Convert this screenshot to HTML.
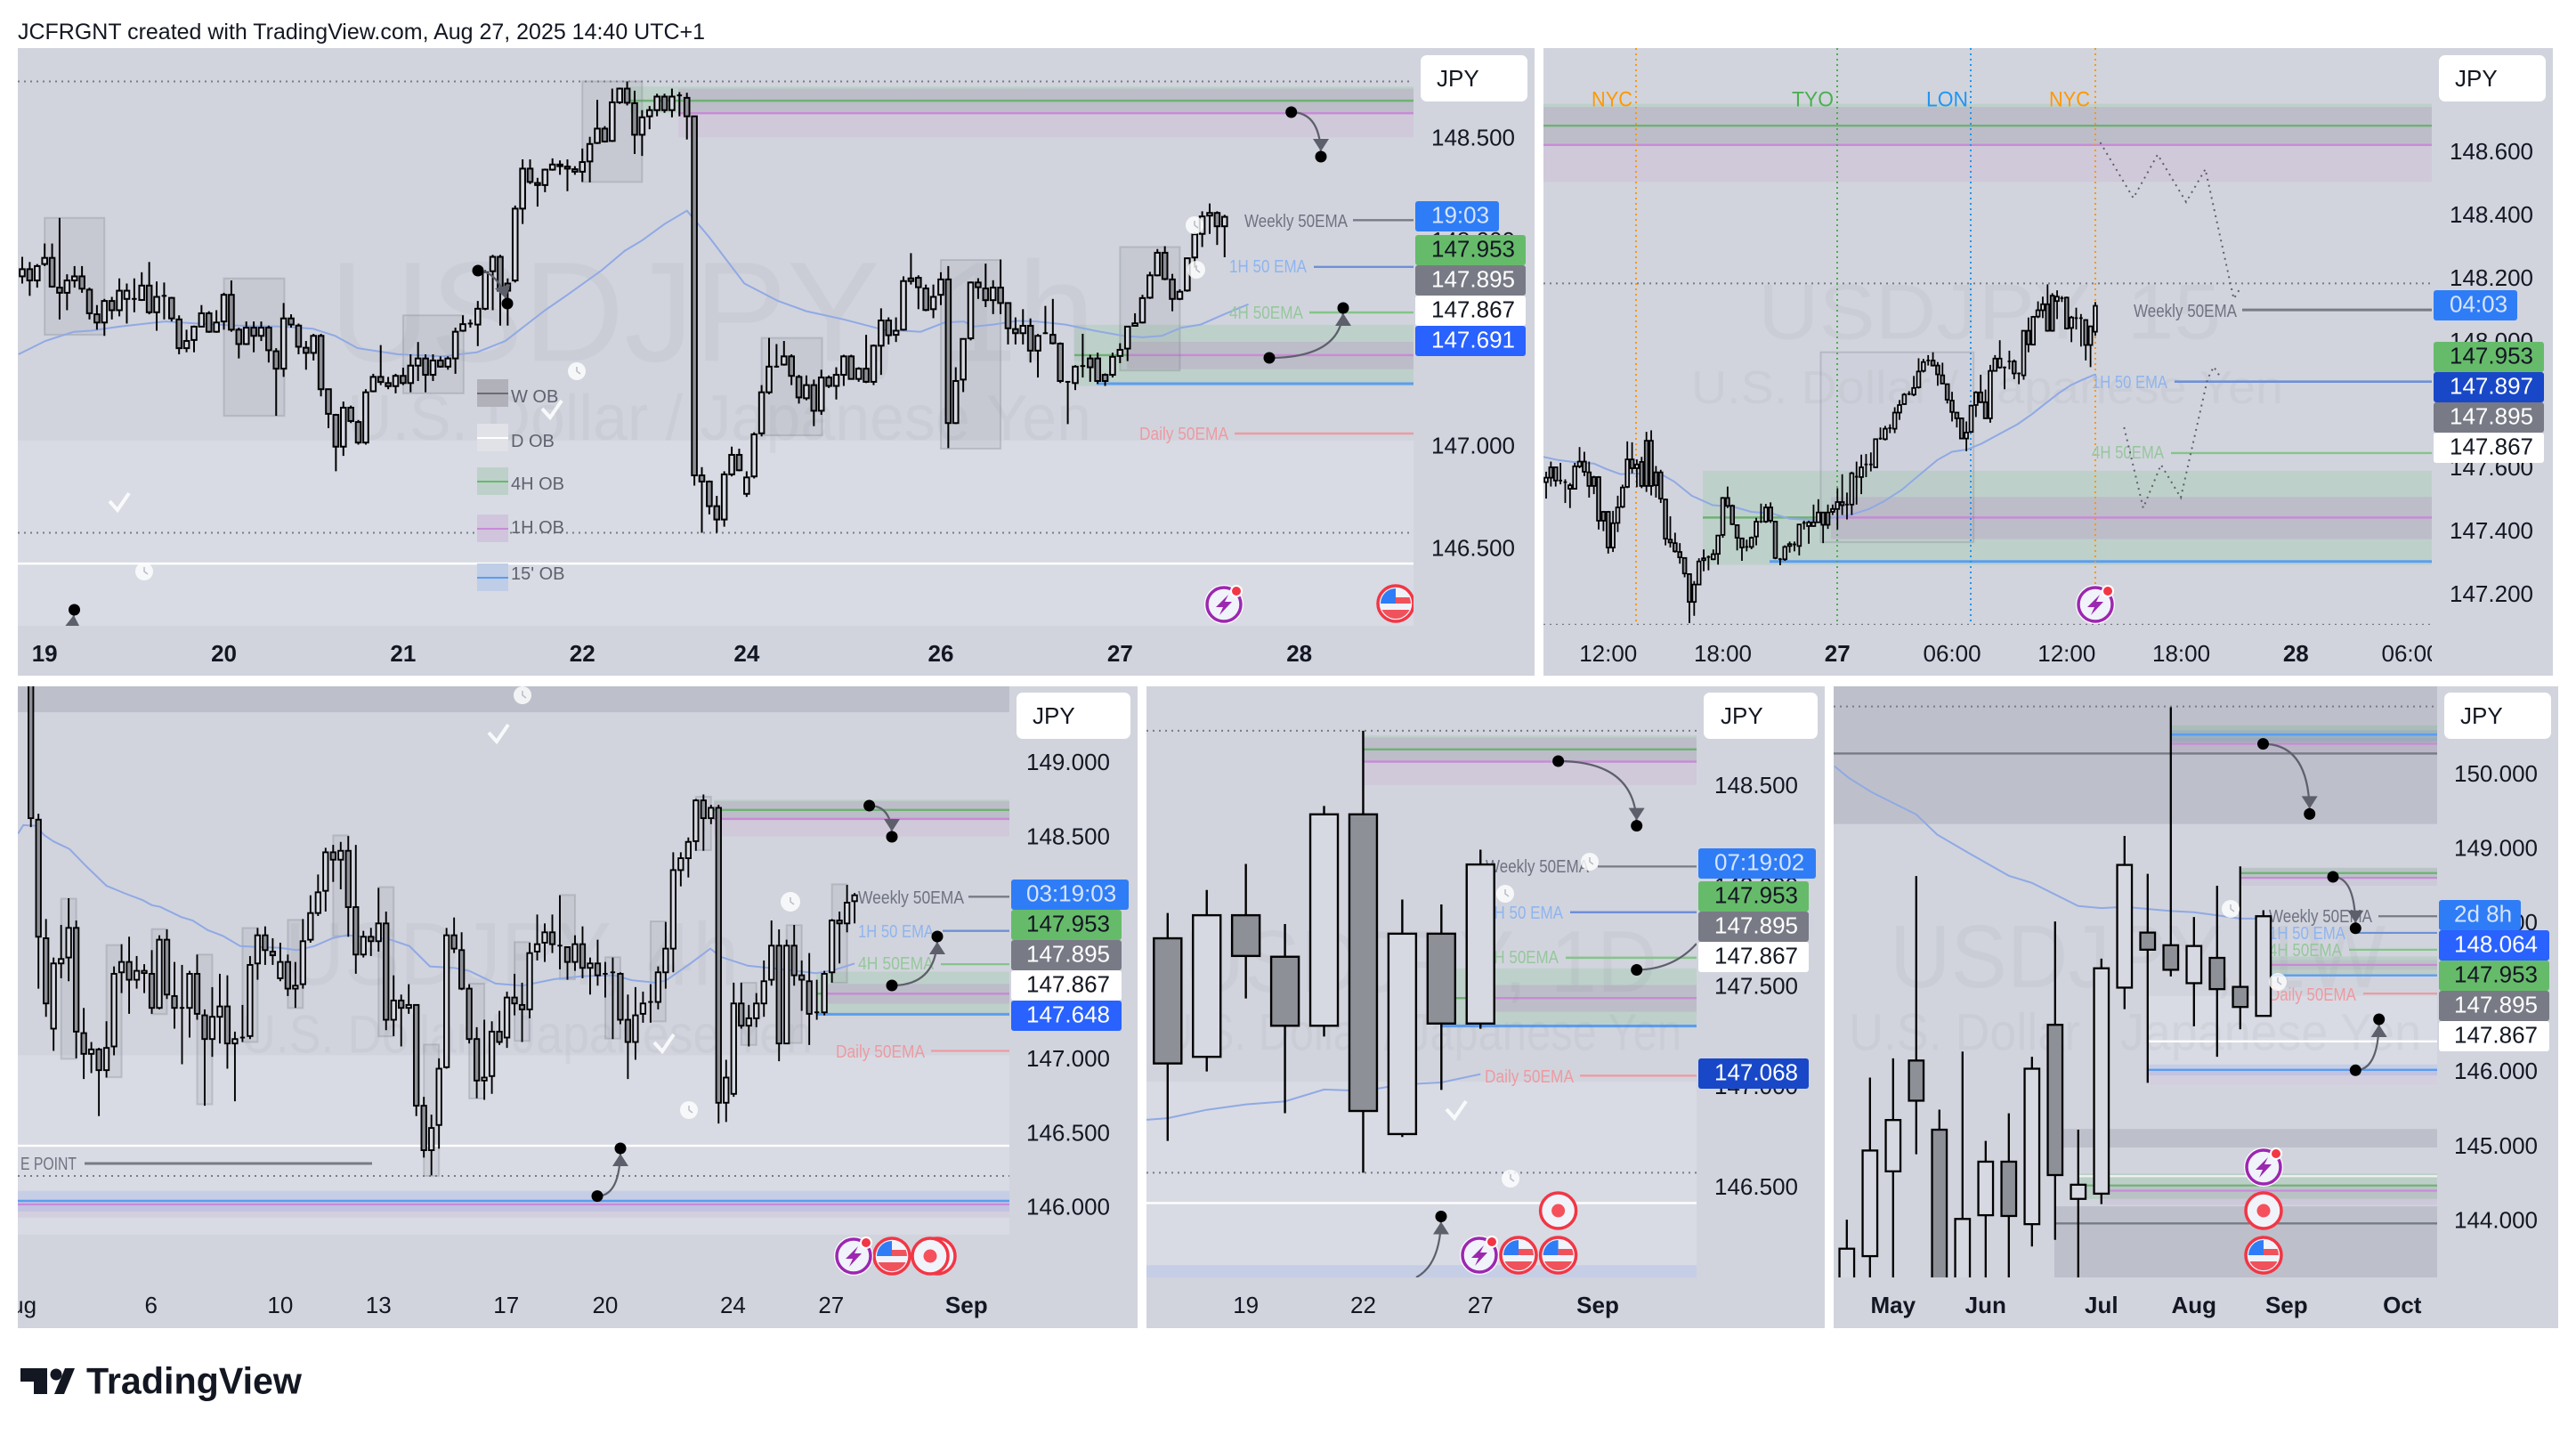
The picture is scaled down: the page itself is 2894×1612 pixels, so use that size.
<!DOCTYPE html>
<html lang="en">
<head>
<meta charset="utf-8">
<title>USDJPY multi-timeframe layout</title>
<style>
html,body{margin:0;padding:0;background:#fff;}
body{width:2894px;height:1612px;overflow:hidden;font-family:"Liberation Sans",sans-serif;}
svg{display:block;font-family:"Liberation Sans",sans-serif;}
</style>
</head>
<body>
<svg id="chart" width="2894" height="1612" viewBox="0 0 2894 1612">
<rect x="0" y="0" width="2894" height="1612" fill="#ffffff"/>
<text x="20" y="36" dominant-baseline="central" font-size="25" fill="#131722" textLength="772" lengthAdjust="spacingAndGlyphs">JCFRGNT created with TradingView.com, Aug 27, 2025 14:40 UTC+1</text>
<g>
<path d="M23 1537h30v29h-15v-14h-15z M61 1566l12-29h11l-12 29z" fill="#131722"/>
<circle cx="63" cy="1544" r="6.5" fill="#131722"/>
<text x="97" y="1551" dominant-baseline="central" font-size="42" font-weight="700" fill="#131722" textLength="242" lengthAdjust="spacingAndGlyphs">TradingView</text>
</g>
</svg>
<script>
/* ---------- 1h panel ---------- */
const p1Open=[147.83,147.865,147.81,147.89,147.92,147.775,147.75,147.81,147.83,147.765,147.645,147.605,147.71,147.665,147.72,147.72,147.715,147.785,147.655,147.735,147.725,147.62,147.48,147.52,147.585,147.65,147.56,147.61,147.74,147.57,147.50,147.58,147.54,147.58,147.465,147.38,147.625,147.59,147.482,147.457,147.54,147.28,147.155,147.0,147.19,147.12,147.02,147.27,147.34,147.31,147.295,147.345,147.31,147.395,147.43,147.35,147.42,147.39,147.43,147.565,147.60,147.595,147.672,147.855,147.925,147.795,147.81,148.16,148.355,148.285,148.275,148.35,148.375,148.365,148.352,148.34,148.39,148.48,148.55,148.49,148.678,148.745,148.674,148.52,148.61,148.64,148.706,148.64,148.712,148.70,148.61,146.86,146.83,146.71,146.645,146.865,146.96,146.77,146.855,147.065,147.265,147.39,147.40,147.44,147.34,147.236,147.30,147.175,147.337,147.296,147.35,147.44,147.33,147.38,147.316,147.492,147.615,147.545,147.57,147.82,147.823,147.771,147.67,147.74,147.815,147.115,147.327,147.528,147.80,147.771,147.714,147.775,147.70,147.573,147.553,147.589,147.468,147.553,147.545,147.502,147.316,147.31,147.393,147.43,147.43,147.35,147.35,147.442,147.478,147.589,147.605,147.726,147.835,147.945,147.815,147.72,147.761,147.922,148.037,148.126,148.139,148.074];
const p1High=[147.925,147.90,147.89,147.99,147.99,148.115,147.84,147.88,147.88,147.775,147.69,147.72,147.73,147.82,147.795,147.82,147.85,147.90,147.805,147.80,147.73,147.64,147.57,147.59,147.69,147.66,147.665,147.75,147.81,147.58,147.61,147.61,147.61,147.59,147.48,147.70,147.645,147.60,147.515,147.55,147.55,147.28,147.16,147.22,147.20,147.13,147.28,147.355,147.495,147.34,147.355,147.385,147.45,147.51,147.45,147.45,147.44,147.44,147.58,147.64,147.62,147.71,147.86,147.935,147.935,147.82,148.175,148.40,148.40,148.31,148.355,148.405,148.395,148.40,148.367,148.453,148.51,148.69,148.562,148.745,148.75,148.78,148.735,148.64,148.66,148.72,148.72,148.745,148.728,148.725,148.61,146.90,146.835,146.76,146.88,147.0,146.99,146.88,147.07,147.30,147.53,147.50,147.515,147.45,147.35,147.347,147.327,147.375,147.347,147.387,147.448,147.448,147.387,147.545,147.498,147.674,147.63,147.63,147.83,147.943,147.835,147.79,147.79,147.85,147.88,147.387,147.528,147.805,147.821,147.892,147.811,147.912,147.70,147.63,147.67,147.625,147.549,147.686,147.72,147.508,147.32,147.397,147.55,147.448,147.458,147.357,147.458,147.504,147.589,147.65,147.74,147.852,147.963,147.977,147.842,147.767,147.922,148.043,148.147,148.185,148.147,148.13];
const p1Low=[147.795,147.735,147.775,147.88,147.775,147.62,147.665,147.775,147.75,147.62,147.57,147.54,147.62,147.635,147.60,147.655,147.71,147.645,147.565,147.62,147.61,147.45,147.46,147.46,147.585,147.555,147.555,147.57,147.56,147.43,147.495,147.46,147.515,147.41,147.15,147.34,147.58,147.45,147.375,147.42,147.245,147.09,146.88,146.955,147.115,147.01,147.01,147.265,147.30,147.28,147.26,147.30,147.265,147.32,147.265,147.32,147.385,147.375,147.355,147.56,147.58,147.49,147.665,147.665,147.59,147.59,147.80,148.085,148.28,148.17,148.24,148.345,148.325,148.245,148.325,148.29,148.288,148.475,148.482,148.485,148.67,148.663,148.426,148.417,148.547,148.61,148.627,148.605,148.61,148.497,146.81,146.58,146.67,146.58,146.61,146.855,146.88,146.755,146.845,147.05,147.255,147.385,147.395,147.30,147.21,147.226,147.10,147.155,147.286,147.23,147.296,147.327,147.316,147.31,147.30,147.35,147.498,147.51,147.565,147.79,147.67,147.66,147.626,147.69,146.993,147.11,147.266,147.518,147.72,147.68,147.646,147.646,147.498,147.498,147.498,147.41,147.337,147.549,147.498,147.31,147.11,147.276,147.337,147.316,147.306,147.296,147.337,147.407,147.417,147.585,147.60,147.72,147.83,147.811,147.66,147.714,147.755,147.872,147.973,148.037,147.983,147.923];
const p1Close=[147.865,147.81,147.88,147.92,147.78,147.75,147.81,147.83,147.77,147.65,147.605,147.71,147.665,147.76,147.76,147.72,147.785,147.655,147.73,147.735,147.625,147.48,147.515,147.585,147.65,147.56,147.605,147.74,147.57,147.50,147.58,147.54,147.58,147.47,147.38,147.625,147.595,147.487,147.457,147.54,147.28,147.16,147.0,147.19,147.125,147.02,147.265,147.34,147.315,147.295,147.345,147.31,147.395,147.43,147.35,147.42,147.39,147.43,147.56,147.597,147.60,147.672,147.85,147.925,147.76,147.76,148.16,148.355,148.29,148.275,148.35,148.375,148.367,148.355,148.34,148.387,148.475,148.55,148.487,148.678,148.745,148.676,148.52,148.605,148.64,148.706,148.64,148.706,148.712,148.61,146.86,146.83,146.71,146.645,146.865,146.96,146.885,146.85,147.06,147.265,147.39,147.39,147.44,147.345,147.24,147.30,147.175,147.337,147.296,147.35,147.44,147.33,147.38,147.316,147.492,147.615,147.543,147.565,147.807,147.807,147.777,147.666,147.73,147.815,147.115,147.32,147.525,147.80,147.777,147.714,147.775,147.70,147.577,147.553,147.589,147.468,147.54,147.553,147.504,147.32,147.316,147.39,147.393,147.387,147.32,147.32,147.438,147.472,147.585,147.601,147.724,147.835,147.945,147.817,147.72,147.755,147.918,148.035,148.122,148.139,148.074,148.12];
const p1EmaBar=[-0.5,3.1,6.9,9.2,13,19.1,23.6,29,35,38.9,41.9,44.9,50.3,56.3,60.9,64.7,70,73,77.6,80.7,83,86,89,92,96.7,101.2,105,110,113.2,115.8,118,120.3,123.5,126.1,127.4,130,133.2,135.8,139.7,143.6,147.5,150,152.6,155.2,157.8,161,164.2];
const p1EmaPrice=[147.45,147.515,147.56,147.565,147.585,147.61,147.60,147.59,147.585,147.575,147.54,147.48,147.45,147.44,147.46,147.515,147.665,147.74,147.86,147.955,148.005,148.085,148.15,148.02,147.795,147.71,147.66,147.62,147.59,147.565,147.565,147.56,147.605,147.61,147.585,147.595,147.613,147.61,147.595,147.565,147.54,147.533,147.54,147.58,147.595,147.646,147.694];
const p1XLabels=['19','20','21','22','24','26','27','28'];
const p1XBars=[3,27,51,75,97,123,147,171];
const p1YTicks=[148.5,148,147.5,147,146.5];

/* ---------- 15m panel ---------- */
const p2Open=[147.558,147.605,147.605,147.563,147.558,147.537,147.537,147.608,147.623,147.589,147.574,147.574,147.464,147.464,147.351,147.429,147.480,147.543,147.630,147.602,147.622,147.689,147.689,147.589,147.589,147.503,147.376,147.365,147.337,147.318,147.267,147.179,147.234,147.311,147.321,147.314,147.331,147.391,147.508,147.483,147.422,147.380,147.353,147.353,147.386,147.433,147.433,147.478,147.433,147.314,147.314,147.356,147.361,147.356,147.429,147.419,147.419,147.431,147.462,147.462,147.464,147.473,147.495,147.487,147.487,147.575,147.574,147.614,147.614,147.605,147.696,147.694,147.729,147.727,147.778,147.805,147.837,147.835,147.858,147.910,147.943,147.943,147.927,147.896,147.868,147.816,147.778,147.760,147.696,147.717,147.802,147.842,147.811,147.760,147.910,147.921,147.921,147.940,147.940,147.902,147.896,148.037,147.993,148.082,148.102,148.121,148.148,148.131,148.140,148.142,148.046,148.077,148.077,148.071,147.992,148.034];
const p2High=[147.591,147.623,147.605,147.619,147.567,147.555,147.619,147.669,147.654,147.623,147.578,147.577,147.467,147.467,147.467,147.515,147.550,147.687,147.684,147.630,147.638,147.717,147.722,147.609,147.597,147.506,147.450,147.398,147.365,147.320,147.269,147.245,147.317,147.345,147.326,147.345,147.391,147.511,147.544,147.487,147.424,147.382,147.376,147.386,147.445,147.490,147.489,147.494,147.436,147.318,147.358,147.370,147.370,147.426,147.436,147.436,147.487,147.504,147.464,147.487,147.487,147.539,147.583,147.525,147.591,147.623,147.645,147.647,147.652,147.696,147.731,147.736,147.741,147.795,147.818,147.840,147.846,147.894,147.950,147.948,147.960,147.969,147.938,147.936,147.870,147.844,147.780,147.762,147.750,147.803,147.846,147.898,147.851,147.929,147.960,148.007,147.924,147.974,147.946,147.905,148.039,148.079,148.084,148.130,148.145,148.184,148.156,148.165,148.147,148.145,148.084,148.110,148.090,148.074,148.053,148.128];
const p2Low=[147.506,147.544,147.544,147.551,147.492,147.476,147.536,147.602,147.577,147.509,147.520,147.408,147.403,147.332,147.337,147.400,147.476,147.539,147.586,147.542,147.539,147.527,147.516,147.509,147.492,147.358,147.351,147.335,147.300,147.257,147.112,147.135,147.232,147.276,147.279,147.311,147.297,147.382,147.476,147.422,147.342,147.309,147.339,147.346,147.358,147.429,147.429,147.429,147.314,147.295,147.309,147.335,147.339,147.326,147.408,147.363,147.417,147.429,147.365,147.410,147.454,147.408,147.454,147.440,147.454,147.487,147.520,147.574,147.592,147.602,147.692,147.690,147.713,147.713,147.755,147.802,147.833,147.830,147.854,147.905,147.927,147.924,147.863,147.868,147.807,147.750,147.731,147.694,147.656,147.714,147.764,147.808,147.758,147.746,147.908,147.917,147.852,147.915,147.884,147.868,147.882,147.969,147.992,148.077,148.077,148.034,148.034,148.074,148.128,148.041,148.001,148.041,147.987,147.943,147.922,148.021];
const p2Close=[147.572,147.572,147.563,147.563,147.558,147.548,147.608,147.623,147.591,147.546,147.546,147.436,147.436,147.351,147.428,147.478,147.541,147.630,147.602,147.614,147.546,147.546,147.546,147.548,147.506,147.379,147.367,147.339,147.320,147.269,147.179,147.234,147.307,147.317,147.321,147.330,147.389,147.508,147.483,147.425,147.382,147.351,147.353,147.382,147.433,147.433,147.478,147.436,147.318,147.314,147.353,147.362,147.361,147.424,147.429,147.431,147.431,147.462,147.423,147.423,147.473,147.495,147.485,147.487,147.586,147.575,147.605,147.614,147.614,147.694,147.696,147.727,147.729,147.778,147.802,147.835,147.837,147.856,147.908,147.938,147.943,147.927,147.899,147.870,147.819,147.780,147.760,147.696,147.715,147.800,147.842,147.811,147.760,147.910,147.949,147.949,147.921,147.940,147.902,147.902,148.037,147.994,148.081,148.102,148.121,148.037,148.037,148.145,148.140,148.044,148.079,148.077,148.077,147.992,148.051,148.116];
const p2EmaBar=[-0.6,2.5,5.6,10,12.5,15.6,18,24.3,26.8,30.5,34.9,39.2,43,47.3,51,56.7,63.9,67.6,70.7,74.5,78.2,81.9,85,88.1,91.2,95,98.7,101.8,104.3,107.4,109.9,112.3,115];
const p2EmaPrice=[147.638,147.628,147.622,147.617,147.60,147.583,147.586,147.581,147.56,147.515,147.485,147.48,147.464,147.459,147.442,147.438,147.455,147.473,147.497,147.534,147.581,147.628,147.654,147.661,147.68,147.711,147.741,147.774,147.804,147.84,147.865,147.882,147.899];
const p2XLabels=['12:00','18:00','27','06:00','12:00','18:00','28','06:00'];
const p2XBars=[13,37,61,85,109,133,157,181];
const p2YTicks=[148.6,148.4,148.2,148,147.6,147.4,147.2];

/* ---------- 4h panel ---------- */
const p3Open=[149.9,148.62,147.82,147.21,147.65,147.69,147.89,147.18,147.04,147.07,146.93,147.09,147.59,147.66,147.54,147.585,147.58,147.35,147.81,147.43,147.35,147.35,147.58,147.30,147.14,147.29,147.36,147.11,147.15,147.16,147.65,147.84,147.73,147.55,147.66,147.48,147.51,147.81,147.99,148.14,148.40,148.35,148.41,148.03,147.71,147.83,147.80,147.92,147.27,147.40,147.35,147.37,146.69,146.39,146.56,146.95,147.84,147.74,147.48,147.14,146.86,146.89,147.19,147.15,147.42,147.37,147.34,147.73,147.79,147.86,147.77,147.76,147.66,147.78,147.62,147.65,147.58,147.59,147.58,147.27,147.12,147.31,147.39,147.39,147.59,147.75,148.28,148.36,148.475,148.75,148.63,148.70,146.71,146.77,147.38,147.23,147.28,147.38,147.54,147.77,147.11,147.77,147.57,147.53,147.32,147.32,147.59,147.94,147.92,148.07];
const p3High=[150.4,148.66,147.95,147.69,147.91,148.09,147.94,147.35,147.12,147.08,147.26,147.63,147.78,147.83,147.70,147.645,147.74,147.84,147.88,147.66,147.64,147.60,147.71,147.34,147.49,147.58,147.57,147.19,147.37,147.70,147.89,147.90,147.82,147.79,147.71,147.66,147.95,148.11,148.25,148.43,148.45,148.47,148.51,148.45,147.87,147.89,148.16,148.0,147.57,147.44,147.51,147.37,146.75,146.63,147.01,147.89,147.96,147.86,147.51,147.22,147.27,147.26,147.33,147.46,147.58,147.52,147.79,147.98,147.92,147.98,148.11,147.76,147.84,147.90,147.69,147.81,147.66,147.69,147.59,147.44,147.49,147.46,147.51,147.63,147.93,148.40,148.40,148.50,148.76,148.79,148.72,148.72,147.0,147.52,147.52,147.37,147.45,147.67,147.94,147.88,147.81,147.91,147.67,147.72,147.54,147.60,147.95,148.0,148.18,148.125];
const p3Low=[148.57,147.48,147.29,147.06,147.55,147.53,147.01,146.87,146.91,146.62,146.88,147.03,147.45,147.31,147.48,147.45,147.31,147.34,147.41,147.21,146.97,147.15,147.27,146.69,147.02,147.11,146.94,146.72,147.12,147.14,147.54,147.64,147.64,147.53,147.43,147.35,147.48,147.79,147.97,148.0,148.20,148.15,147.83,147.58,147.69,147.70,147.73,147.20,147.16,147.09,147.31,146.62,146.34,146.22,146.40,146.94,147.72,147.47,147.11,146.74,146.73,146.77,147.10,147.08,147.30,147.12,147.28,147.67,147.66,147.72,147.61,147.54,147.60,147.55,147.44,147.50,147.42,147.14,147.24,146.87,147.0,147.25,147.25,147.34,147.48,147.59,148.17,148.23,148.41,148.41,148.59,146.57,146.58,146.75,147.21,147.09,147.22,147.29,147.50,146.99,147.11,147.50,147.33,147.10,147.27,147.30,147.52,147.65,147.86,147.92];
const p3Close=[148.63,147.83,147.38,147.65,147.68,147.89,147.19,147.04,147.07,146.93,147.08,147.58,147.66,147.54,147.60,147.60,147.35,147.81,147.44,147.35,147.35,147.58,147.31,147.14,147.29,147.36,147.11,147.14,147.15,147.64,147.84,147.74,147.705,147.66,147.48,147.50,147.80,147.99,148.13,148.40,148.35,148.41,148.03,147.71,147.83,147.80,147.92,147.27,147.40,147.35,147.37,146.69,146.39,146.54,146.94,147.84,147.75,147.48,147.14,146.86,146.88,147.19,147.12,147.42,147.38,147.34,147.72,147.78,147.86,147.78,147.77,147.66,147.78,147.62,147.65,147.57,147.58,147.59,147.27,147.12,147.30,147.38,147.39,147.59,147.75,148.28,148.36,148.47,148.75,148.63,148.70,146.71,146.88,147.38,147.23,147.28,147.38,147.53,147.77,147.11,147.77,147.57,147.54,147.31,147.32,147.58,147.94,147.92,148.06,148.11];
const p3EmaBar=[-1.7,-1,0.6,1.8,3,5.1,7.3,10,12.4,14.8,16,17.1,19.9,21.4,23.4,25.4,27.7,30.5,32.8,35.2,37.5,39.9,41.8,44.2,47.4,50.1,52.8,56,58,61.5,65,69.3,72.9,77.2,79.5,82.7,84,87.4,89.9,91.3,94.9,98.8,103.9,106.2,109];
const p3EmaPrice=[148.526,148.583,148.579,148.514,148.473,148.422,148.307,148.174,148.123,148.077,148.043,148.032,147.963,147.94,147.875,147.836,147.767,147.76,147.756,147.74,147.767,147.82,147.841,147.829,147.813,147.767,147.63,147.62,147.6,147.514,147.5,147.544,147.564,147.57,147.537,147.52,147.534,147.654,147.75,147.694,147.634,147.614,147.584,147.604,147.65];
const p3XLabels=['Aug','6','10','13','17','20','24','27','Sep'];
const p3XBars=[-1.97,15.9,33,46,62.9,76,92.9,105.9,123.8];
const p3YTicks=[149,148.5,148,147.5,147,146.5,146];

/* ---------- 1D panel ---------- */
const p4Open=[147.744,147.153,147.859,147.652,147.308,148.362,146.768,147.767,147.319];
const p4High=[147.87,147.985,148.115,147.815,148.404,148.779,147.937,147.913,148.186];
const p4Low=[146.734,147.08,147.444,146.872,147.254,146.575,146.753,146.988,147.293];
const p4Close=[147.12,147.859,147.656,147.308,148.362,146.883,147.767,147.319,148.112];
const p4EmaBar=[-0.54,0,1,2,3,4,5,6,7,8];
const p4EmaPrice=[146.839,146.847,146.889,146.916,146.931,146.99,146.983,147.015,147.025,147.067];
const p4XLabels=['19','22','27','Sep'];
const p4XBars=[2,5,8,11];
const p4YTicks=[148.5,148,147.5,147,146.5];

/* ---------- 1W panel ---------- */
const p5Open=[143.0,143.53,144.67,146.16,145.23,143.0,144.08,144.80,143.96,146.64,144.30,144.37,147.14,147.88,147.71,147.20,147.54,147.15,146.76];
const p5High=[144.02,145.93,146.19,148.64,145.50,146.28,145.08,145.45,146.21,148.03,145.23,147.53,149.18,148.67,150.91,148.09,148.51,148.77,148.18];
const p5Low=[142.8,143.0,143.1,144.9,142.9,142.9,143.0,143.0,143.66,143.75,143.0,144.23,146.85,145.86,147.29,146.62,146.21,146.58,146.76];
const p5Close=[143.63,144.95,145.36,145.62,143.1,144.03,144.80,144.07,146.05,144.62,144.49,147.40,148.79,147.65,147.38,147.70,147.12,146.88,148.10];
const p5EmaBar=[-0.54,0.08,1.1,3,3.9,5.3,7,8,10,11,12,14,15,16,17,18];
const p5EmaPrice=[150.119,149.96,149.763,149.469,149.198,148.944,148.644,148.548,148.237,148.21,148.226,148.17,148.153,148.113,148.068,148.068];
const p5XLabels=['May','Jun','Jul','Aug','Sep','Oct'];
const p5XBars=[2,6,11,15,19,24];
const p5YTicks=[150,149,148,146,145,144];

/* ---------- helpers ---------- */
const NS='http://www.w3.org/2000/svg';
const root=document.getElementById('chart');
let uid=0;
function add(parent,tag,name,attrs,interactable){
  const el=document.createElementNS(NS,tag);
  
  
  for(const k in attrs) el.setAttribute(k,attrs[k]);
  parent.appendChild(el);
  return el;
}
function txt(parent,name,str,x,y,size,fill,opt){
  opt=opt||{};
  const a={x:x,y:y,'font-size':size,fill:fill,'dominant-baseline':'central'};
  if(opt.anchor)a['text-anchor']=opt.anchor;
  if(opt.weight)a['font-weight']=opt.weight;
  if(opt.len){a.textLength=opt.len;a.lengthAdjust='spacingAndGlyphs';}
  const el=add(parent,'text',name,a,opt.interactive);
  el.textContent=str;
  return el;
}
const BASE='#d1d4dd',LIGHT='#d8dbe3',DARKBAND='#bdc0ca';
const GREEN='rgba(76,175,80,.15)',PINK='rgba(156,39,176,.065)',BLUE='rgba(41,98,255,.1)';
const SOLID_GREEN='#bed0ca',SOLID_PINK='#d0c9da',SOLID_OVERLAP='#bcbdc8';
const L_GREEN='#6fb174',L_PINK='#c98ad8',L_BLUE='#5b9df0',L_GREY='#787b86',L_1H='#6d90d8',L_4H='#85c48a',L_DAILY='#ee9aa2';
const T_GREY='#6f7280',T_1H='#8fb4ef',T_4H='#96c79c',T_DAILY='#ee9aa2';
const TAG_GREEN='#66bb6a',TAG_GREY='#787b86',TAG_BLUE='#2962ff',TAG_CD='#2f7df6',TAG_NAVY='#1848c8';

function panel(key,label,left,right,top,bottom,plotR,plotB,p0,y0,k,x0,step){
  const g=add(root,'g',key+'-panel',{},false);
  add(g,'rect',key+'-background',{x:left,y:top,width:right-left,height:bottom-top,fill:BASE},false);
  const id='clip'+(++uid);
  const defs=add(g,'defs','clip-defs',{},false);
  const cp=add(defs,'clipPath','plot-clip',{id:id},false);
  add(cp,'rect','plot-clip-rect',{x:left,y:top,width:plotR-left,height:plotB-top},false);
  const id2='clip'+(++uid);
  const cp2=add(defs,'clipPath','axis-clip',{id:id2},false);
  add(cp2,'rect','axis-clip-rect',{x:left,y:top,width:plotR-left,height:bottom-top},false);
  const plot=add(g,'g',key+'-plot-area',{'clip-path':'url(#'+id+')'},false);
  const axisX=add(g,'g',key+'-time-axis',{'clip-path':'url(#'+id2+')'},false);
  const overlay=add(g,'g',key+'-price-axis',{},false);
  return {key,left,right,top,bottom,plotR,plotB,g,plot,axisX,overlay,
    y:p=>y0+(p0-p)*k, x:i=>x0+i*step};
}
function zone(P,name,pTop,pBot,xa,xb,fill){
  const y1=P.y(pTop),y2=P.y(pBot);
  add(P.plot,'rect',name,{x:xa,y:y1,width:xb-xa,height:y2-y1,fill:fill},false);
}
function level(P,name,p,xa,xb,color,w,dash){
  const a={x1:xa,x2:xb,y1:P.y(p),y2:P.y(p),stroke:color,'stroke-width':w||2};
  if(dash)a['stroke-dasharray']=dash;
  add(P.plot,'line',name,a,true);
}
function box(P,name,b0,b1,pTop,pBot,alpha){
  const xa=P.x(b0),xb=P.x(b1),y1=P.y(pTop),y2=P.y(pBot);
  add(P.plot,'rect',name,{x:xa,y:y1,width:xb-xa,height:y2-y1,fill:'rgba(120,123,134,'+(alpha===undefined?.12:alpha)+')',stroke:'rgba(120,123,134,.28)','stroke-width':2},true);
}
function watermark(P,main,mx,mw,my,ms,sub,sx,sw,sy,ss){
  const c='rgba(120,123,134,.075)';
  txt(P.plot,'symbol-watermark',main,mx,my,ms,c,{len:mw});
  txt(P.plot,'description-watermark',sub,sx,sy,ss,c,{len:sw});
}
function candles(P,o,h,l,c,bw,sw){
  const g=add(P.plot,'g','candles',{},false);
  for(let i=0;i<o.length;i++){
    const cg=add(g,'g','candle',{},true);
    const x=P.x(i);
    add(cg,'line','candle-wick',{x1:x,x2:x,y1:P.y(h[i]),y2:P.y(l[i]),stroke:'#000','stroke-width':sw},false);
    const yt=P.y(Math.max(o[i],c[i])),yb=P.y(Math.min(o[i],c[i]));
    const up=c[i]>=o[i];
    const flat=(yb-yt)<1;
    if(flat){
      add(cg,'line','candle-body',{x1:x-bw/2,x2:x+bw/2,y1:yt,y2:yt,stroke:'#000','stroke-width':sw},false);
    }else{
      add(cg,'rect','candle-body',{x:x-bw/2,y:yt,width:bw,height:yb-yt,fill:up?'#d6d9e1':'#8e9098',stroke:'#000','stroke-width':sw},false);
    }
  }
}
function ema(P,bars,prices){
  let d='';
  for(let i=0;i<bars.length;i++){d+=(i?'L':'M')+P.x(bars[i]).toFixed(1)+' '+P.y(prices[i]).toFixed(1);}
  add(P.plot,'path','ema-line',{d:d,fill:'none',stroke:'#90a9e4','stroke-width':2},false);
}
function xAxis(P,labels,bars,y,boldFn){
  for(let i=0;i<labels.length;i++){
    txt(P.axisX,'time-tick-label',labels[i],P.x(bars[i]),y,26,'#131722',{anchor:'middle',weight:boldFn(labels[i])?'700':null});
  }
}
function yAxis(P,ticks,x){
  for(let i=0;i<ticks.length;i++){
    txt(P.overlay,'price-tick-label',ticks[i].toFixed(3),x,P.y(ticks[i])-1.5,26,'#131722');
  }
}
function jpy(P,x,y,w,h,tx){
  add(P.overlay,'rect','currency-button',{x:x,y:y,width:w,height:h,rx:7,fill:'#ffffff'},true);
  txt(P.overlay,'currency-label','JPY',tx,y+h/2,26,'#131722',{interactive:true});
}
function tag(P,name,str,x,y,w,bg,fg,tx){
  add(P.overlay,'rect',name+'-bg',{x:x,y:y,width:w,height:34,rx:3,fill:bg},false);
  txt(P.overlay,name,str,tx,y+15.5,26,fg);
}
function emaLabel(P,name,str,x,len,y,color){
  txt(P.plot,name,str,x,y,20,color,{len:len});
}
function arrow(P,x1,y1,x2,y2,opt){
  opt=opt||{};
  const g=add(P.plot,'g','projection-arrow',{},true);
  const cx=opt.cx!==undefined?opt.cx:x2, cy=opt.cy!==undefined?opt.cy:y1;
  const dx=x2-cx,dy=y2-cy,len=Math.hypot(dx,dy)||1,ux=dx/len,uy=dy/len;
  add(g,'path','arrow-curve',{d:`M${x1} ${y1}Q${cx} ${cy} ${x2} ${y2}`,fill:'none',stroke:'#5d606b','stroke-width':2.2},false);
  if(!opt.noHead){
    const bx=x2-ux*6,by=y2-uy*6,ex=x2-ux*20,ey=y2-uy*20;
    add(g,'polygon','arrow-head',{points:`${bx},${by} ${ex-uy*9},${ey+ux*9} ${ex+uy*9},${ey-ux*9}`,fill:'#5d606b'},false);
    add(g,'circle','arrow-end-dot',{cx:x2,cy:y2,r:6.5,fill:'#000'},false);
  }
  if(!opt.noStart)add(g,'circle','arrow-start-dot',{cx:x1,cy:y1,r:6.5,fill:'#000'},false);
}
function clockPin(P,x,y,r){
  const g=add(P.plot,'g','clock-pin',{},true);
  add(g,'circle','clock-face',{cx:x,cy:y,r:r||10,fill:'rgba(255,255,255,.8)'},false);
  add(g,'path','clock-hands',{d:`M${x} ${y-5}V${y}L${x+4} ${y+3}`,fill:'none',stroke:'#b9bcc6','stroke-width':1.5},false);
}
function checkPin(P,x,y){
  add(P.plot,'polyline','check-pin',{points:`${x-11},${y-1} ${x-2},${y+9} ${x+11},${y-10}`,fill:'none',stroke:'rgba(255,255,255,.85)','stroke-width':4},true);
}
function lightning(P,cx,cy){
  const g=add(P.plot,'g','news-lightning-icon',{},true);
  add(g,'circle','icon-halo',{cx:cx,cy:cy,r:22,fill:'#ffffff'},false);
  add(g,'circle','icon-ring',{cx:cx,cy:cy,r:19,fill:'#f0f3fa',stroke:'#9c27b0','stroke-width':3.5},false);
  add(g,'polygon','icon-bolt',{points:`${cx+5},${cy-11} ${cx-9},${cy+3} ${cx-1},${cy+3} ${cx-5},${cy+12} ${cx+9},${cy-3} ${cx+1},${cy-3}`,fill:'#9c27b0'},false);
  add(g,'circle','icon-alert-halo',{cx:cx+14,cy:cy-15,r:7,fill:'#ffffff'},false);
  add(g,'circle','icon-alert-dot',{cx:cx+14,cy:cy-15,r:5,fill:'#f23645'},false);
}
function flag(P,cx,cy){
  const g=add(P.plot,'g','usd-event-icon',{},true);
  const id='clip'+(++uid);
  const cp=add(g,'clipPath','flag-clip',{id:id},false);
  add(cp,'circle','flag-clip-circle',{cx:cx,cy:cy,r:17},false);
  add(g,'circle','icon-ring',{cx:cx,cy:cy,r:20,fill:'#f0f3fa',stroke:'#f23645','stroke-width':3.5},false);
  const f=add(g,'g','flag-art',{'clip-path':'url(#'+id+')'},false);
  add(f,'rect','flag-stripe-top',{x:cx,y:cy-7,width:18,height:7,fill:'#f0525c'},false);
  add(f,'rect','flag-stripe-bottom',{x:cx-18,y:cy+7,width:36,height:11,fill:'#f0525c'},false);
  add(f,'rect','flag-canton',{x:cx-18,y:cy-18,width:18,height:18,fill:'#2f7df6'},false);
}
function target(P,cx,cy){
  const g=add(P.plot,'g','event-target-icon',{},true);
  add(g,'circle','icon-ring',{cx:cx,cy:cy,r:20,fill:'#f0f3fa',stroke:'#f23645','stroke-width':3.5},false);
  add(g,'circle','icon-center',{cx:cx,cy:cy,r:7.5,fill:'#f5505c'},false);
}
function sharedTopZones(P,xG,xP,xR){
  zone(P,'h4-order-block',148.755,148.625,xG,xR,SOLID_GREEN);
  zone(P,'h1-order-block',148.625,148.508,xP,xR,SOLID_PINK);
  zone(P,'h4-h1-overlap',148.745,148.625,xP,xR,SOLID_OVERLAP);
  level(P,'h4-ob-level',148.686,xG,xR,L_GREEN,2.4);
  level(P,'h1-ob-level',148.625,xP,xR,L_PINK,2.4);
}
function sharedMidZones(P,xG,xP,xB,xR){
  zone(P,'h4-order-block-lower',147.594,147.296,xG,xR,SOLID_GREEN);
  zone(P,'h4-h1-overlap-lower',147.511,147.378,xP,xR,SOLID_OVERLAP);
  level(P,'h4-ob-lower-level',147.446,xG,xP,L_GREEN,2.4);
  level(P,'h1-ob-lower-level',147.446,xP,xR,L_PINK,2.4);
  level(P,'m15-ob-level',147.307,xB,xR,L_BLUE,3);
}
const DOT='2 5';
const isDay=s=>/^\d\d$/.test(s);

/* ---------- Panel 1: 1h ---------- */
(function(){
  const P=panel('h1-chart','',20,1724,54,759,1588,703,148.5,156,230.5,25,8.39);
  zone(P,'daily-order-block-light',147.03,146.0,20,1588,LIGHT);
  sharedTopZones(P,708,762,1588);
  sharedMidZones(P,1207,1266,1232,1588);
  watermark(P,'USDJPY, 1h',370,860,350,160,'U.S. Dollar / Japanese Yen',390,836,470,72);
  const boxes=[[3,11,148.115,147.545],[27,35.1,147.82,147.15],[51,59.1,147.64,147.26],[75,83,148.78,148.29],[99,107.1,147.53,147.055],[123,131,147.91,146.99],[147,155,147.973,147.371]];
  boxes.forEach(b=>box(P,'order-block-box',b[0],b[1],b[2],b[3]));
  level(P,'upper-dotted-level',148.78,20,1588,L_GREY,2,DOT);
  level(P,'lower-dotted-level',146.58,20,1588,L_GREY,2,DOT);
  level(P,'daily-ob-white-line',146.43,20,1588,'#ffffff',2.6);
  ema(P,p1EmaBar,p1EmaPrice);
  level(P,'weekly-50ema-line',148.104,1520,1588,L_GREY,2.4);
  level(P,'h1-50ema-line',147.876,1476,1588,L_1H,2.4);
  level(P,'h4-50ema-line',147.654,1471,1588,L_4H,2.4);
  level(P,'daily-50ema-line',147.064,1387,1588,L_DAILY,2.4);
  emaLabel(P,'weekly-50ema-label','Weekly 50EMA',1398,116,249,T_GREY);
  emaLabel(P,'h1-50ema-label','1H 50 EMA',1381,87,300,T_1H);
  emaLabel(P,'h4-50ema-label','4H 50EMA',1381,83,352,T_4H);
  emaLabel(P,'daily-50ema-label','Daily 50EMA',1280,100,488,T_DAILY);
  /* legend */
  const legend=[['W OB','#b0b1b9','#6b6d76',426,446],['D OB','#e0e2e8','#ffffff',476,496],['4H OB','#bdd0ca','#66bb6a',525,544],['1H OB','#d0c5dc','#c98ad8',578,593],["15' OB",'#bfcde6','#5b9df0',633,645]];
  legend.forEach(r=>{
    const g=add(P.plot,'g','legend-entry',{},false);
    add(g,'rect','legend-swatch',{x:536,y:r[3],width:35,height:31,fill:r[1]},false);
    add(g,'line','legend-swatch-line',{x1:536,x2:571,y1:r[3]+16,y2:r[3]+16,stroke:r[2],'stroke-width':2},false);
    txt(g,'legend-label',r[0],574,r[4],20,'#5f626d');
  });
  candles(P,p1Open,p1High,p1Low,p1Close,5.6,2);
  clockPin(P,648,417);clockPin(P,162,642);clockPin(P,1342,253);clockPin(P,1344,303);
  checkPin(P,620,460);checkPin(P,134,564);
  arrow(P,537,304,570,341,{cx:560,cy:305});
  arrow(P,80,712,83.5,685,{cx:82,cy:700,noStart:true});
  arrow(P,1450.7,126,1484,176);
  arrow(P,1426,402,1509,346);
  lightning(P,1375,679);flag(P,1568,678);
  xAxis(P,p1XLabels,p1XBars,734,()=>true);
  yAxis(P,p1YTicks,1608);
  jpy(P,1596,62,120,52,1614);
  tag(P,'countdown-tag','19:03',1590,226,94,TAG_CD,'#d6e4ff',1608);
  tag(P,'price-tag-green','147.953',1590,264,124,TAG_GREEN,'#131722',1608);
  tag(P,'price-tag-grey','147.895',1590,298,124,TAG_GREY,'#ffffff',1608);
  tag(P,'price-tag-white','147.867',1590,332,124,'#ffffff','#131722',1608);
  tag(P,'last-price-tag','147.691',1590,366,124,TAG_BLUE,'#ffffff',1608);
})();

/* ---------- Panel 2: 15m ---------- */
(function(){
  const P=panel('m15-chart','',1734,2868,54,759,2732,702,148.6,171.7,355,1737,5.365);
  sharedTopZones(P,1734,1734,2732);
  sharedMidZones(P,1913,2057,1988,2732);
  watermark(P,'USDJPY, 15',1975,520,350,88,'U.S. Dollar / Japanese Yen',1900,665,436,52);
  box(P,'order-block-box',57.5,89.5,147.969,147.368,0.02);
  level(P,'upper-dotted-level',148.187,1734,2732,L_GREY,2,DOT);
  level(P,'lower-dotted-level',147.107,1734,2732,L_GREY,2,DOT);
  const sessions=[['NYC',1838,'#ff9800',1788,46],['TYO',2064,'#4caf50',2013,47],['LON',2214,'#2196f3',2164,47],['NYC',2354,'#ff9800',2302,46]];
  sessions.forEach(s=>{
    add(P.plot,'line','session-line',{x1:s[1],x2:s[1],y1:54,y2:702,stroke:s[2],'stroke-width':2,'stroke-dasharray':'2 4'},false);
    txt(P.plot,'session-label',s[0],s[3],112,24,s[2],{len:s[4]});
  });
  ema(P,p2EmaBar,p2EmaPrice);
  level(P,'weekly-50ema-line',148.103,2519,2732,L_GREY,3);
  level(P,'h1-50ema-line',147.876,2443,2732,L_1H,2.6);
  level(P,'h4-50ema-line',147.65,2439,2732,L_4H,2.4);
  emaLabel(P,'weekly-50ema-label','Weekly 50EMA',2397,116,350,T_GREY);
  emaLabel(P,'h1-50ema-label','1H 50 EMA',2350,85,430,T_1H);
  emaLabel(P,'h4-50ema-label','4H 50EMA',2350,81,509,T_4H);
  candles(P,p2Open,p2High,p2Low,p2Close,3.8,1.8);
  add(P.plot,'polyline','projected-path-down',{points:'2359.5,160 2396.7,222.5 2424,173.6 2456,227 2477.6,190 2509.5,335.6 2515.4,326',fill:'none',stroke:'#5d606b','stroke-width':2,'stroke-dasharray':'2 5'},true);
  add(P.plot,'polyline','projected-path-up',{points:'2386.3,480 2407.8,570.7 2427.8,522 2450,559 2480,426 2487,412 2494.7,424',fill:'none',stroke:'#5d606b','stroke-width':2,'stroke-dasharray':'2 5'},true);
  lightning(P,2354,679);
  xAxis(P,p2XLabels,p2XBars,734,isDay);
  yAxis(P,p2YTicks,2752);
  jpy(P,2740,62,120,52,2758);
  tag(P,'countdown-tag','04:03',2734,326,94,TAG_CD,'#d6e4ff',2752);
  tag(P,'price-tag-green','147.953',2734,384,124,TAG_GREEN,'#131722',2752);
  tag(P,'last-price-tag','147.897',2734,418,124,TAG_NAVY,'#ffffff',2752);
  tag(P,'price-tag-grey','147.895',2734,452,124,TAG_GREY,'#ffffff',2752);
  tag(P,'price-tag-white','147.867',2734,486,124,'#ffffff','#131722',2752);
})();

/* ---------- Panel 3: 4h ---------- */
(function(){
  const P=panel('h4-chart','',20,1278,771,1492,1134,1440,149,857.5,166.5,34.7,8.49);
  zone(P,'weekly-order-block',149.6,149.345,20,1134,DARKBAND);
  zone(P,'daily-order-block-light',147.03,145.82,20,1134,LIGHT);
  sharedTopZones(P,802,802,1134);
  sharedMidZones(P,917,930,917,1134);
  watermark(P,'USDJPY, 4h',320,510,1072,100,'U.S. Dollar / Japanese Yen',271,642,1162,60);
  const boxes=[[4,6,148.087,147.006],[10,12,147.774,146.882],[16,18,147.882,147.308],[22,24,147.71,146.70],[28,30,147.889,147.12],[34,36,147.944,147.349],[40,42,148.514,147.834],[46,48,148.165,147.158],[52,54,147.103,146.216],[58,60,147.514,146.739],[64,66,147.794,147.127],[70,72,148.112,147.543],[76,78,147.692,147.143],[82,84,147.934,147.259],[88,90,148.775,148.414],[94,96,147.52,147.10],[100,102,147.908,147.113],[106,108,148.184,147.52]];
  boxes.forEach(b=>box(P,'order-block-box',b[0],b[1],b[2],b[3]));
  zone(P,'m15-order-block-base',146.116,145.977,20,1134,BLUE);
  zone(P,'h1-order-block-base',146.05,145.936,20,1134,PINK);
  level(P,'m15-base-level',146.048,20,1134,L_BLUE,2.6);
  level(P,'h1-base-level',146.024,20,1134,L_PINK,2.2);
  level(P,'dotted-level',146.216,20,1134,L_GREY,2,DOT);
  level(P,'daily-ob-white-line',146.42,20,1134,'#ffffff',2.4);
  level(P,'pivot-point-line',146.30,95,418,L_GREY,3);
  txt(P.plot,'pivot-point-label','E POINT',23,1308,20,T_GREY,{len:63});
  ema(P,p3EmaBar,p3EmaPrice);
  level(P,'weekly-50ema-line',148.1,1088,1134,L_GREY,2.4);
  level(P,'h1-50ema-line',147.87,1059,1134,L_1H,2.4);
  level(P,'h4-50ema-line',147.645,1057,1134,L_4H,2.2);
  level(P,'daily-50ema-line',147.06,1046,1134,L_DAILY,2.2);
  emaLabel(P,'weekly-50ema-label','Weekly 50EMA',964,119,1009,T_GREY);
  emaLabel(P,'h1-50ema-label','1H 50 EMA',964,85,1047,T_1H);
  emaLabel(P,'h4-50ema-label','4H 50EMA',964,85,1083,T_4H);
  emaLabel(P,'daily-50ema-label','Daily 50EMA',939,100,1182,T_DAILY);
  candles(P,p3Open,p3High,p3Low,p3Close,5.4,1.9);
  clockPin(P,587,781);clockPin(P,888,1013,11);clockPin(P,774,1247);
  checkPin(P,560,824);checkPin(P,746,1172);
  arrow(P,976.6,905,1002,940);
  arrow(P,1002,1107,1053,1052);
  arrow(P,671,1343.6,697,1290);
  target(P,1053,1411);target(P,1045,1411);
  flag(P,1002,1411);lightning(P,959,1411);
  xAxis(P,p3XLabels,p3XBars,1466,s=>s==='Sep');
  yAxis(P,p3YTicks,1153);
  jpy(P,1142,778,128,52,1160);
  tag(P,'countdown-tag','03:19:03',1136,988,132,TAG_CD,'#d6e4ff',1153);
  tag(P,'price-tag-green','147.953',1136,1022,124,TAG_GREEN,'#131722',1153);
  tag(P,'price-tag-grey','147.895',1136,1056,124,TAG_GREY,'#ffffff',1153);
  tag(P,'price-tag-white','147.867',1136,1090,124,'#ffffff','#131722',1153);
  tag(P,'last-price-tag','147.648',1136,1124,124,TAG_BLUE,'#ffffff',1153);
})();

/* ---------- Panel 4: 1D ---------- */
(function(){
  const P=panel('d1-chart','',1288,2050,771,1492,1906,1435,148.5,883.7,225.3,1311.8,43.93);
  zone(P,'daily-order-block-light',147.03,145.8,1288,1906,LIGHT);
  sharedTopZones(P,1531,1531,1906);
  sharedMidZones(P,1618,1662,1618,1906);
  watermark(P,'USDJPY, 1D',1330,532,1080,98,'U.S. Dollar / Japanese Yen',1305,584,1160,58);
  zone(P,'m15-order-block-base',146.114,146.0,1288,1906,BLUE);
  level(P,'upper-dotted-level',148.779,1288,1906,L_GREY,2,DOT);
  level(P,'lower-dotted-level',146.575,1288,1906,L_GREY,2,DOT);
  level(P,'daily-ob-white-line',146.424,1288,1906,'#ffffff',2.4);
  ema(P,p4EmaBar,p4EmaPrice);
  level(P,'weekly-50ema-line',148.102,1795,1906,L_GREY,2.2);
  level(P,'h1-50ema-line',147.874,1764,1906,L_1H,2.4);
  level(P,'h4-50ema-line',147.647,1759,1906,L_4H,2.4);
  level(P,'daily-50ema-line',147.059,1775,1906,L_DAILY,2.2);
  emaLabel(P,'weekly-50ema-label','Weekly 50EMA',1669,116,974,T_GREY);
  emaLabel(P,'h1-50ema-label','1H 50 EMA',1669,87,1026,T_1H);
  emaLabel(P,'h4-50ema-label','4H 50EMA',1669,82,1076,T_4H);
  emaLabel(P,'daily-50ema-label','Daily 50EMA',1668,100,1210,T_DAILY);
  candles(P,p4Open,p4High,p4Low,p4Close,31,2.4);
  clockPin(P,1786,968);clockPin(P,1691,1004);clockPin(P,1697,1324);
  checkPin(P,1636,1247);
  arrow(P,1750.6,855,1838.7,927.6);
  arrow(P,1838.7,1089.5,1906,1060,{cx:1880,cy:1089,noHead:true});
  arrow(P,1591,1435,1619,1366.5,{cx:1619,cy:1420,noStart:true});
  target(P,1750.6,1360);
  lightning(P,1662,1410);flag(P,1706,1410);flag(P,1750.6,1410);
  xAxis(P,p4XLabels,p4XBars,1466,s=>s==='Sep');
  yAxis(P,p4YTicks,1926);
  jpy(P,1914,778,128,52,1933);
  tag(P,'countdown-tag','07:19:02',1908,953,132,TAG_CD,'#d6e4ff',1926);
  tag(P,'price-tag-green','147.953',1908,990,124,TAG_GREEN,'#131722',1926);
  tag(P,'price-tag-grey','147.895',1908,1024,124,TAG_GREY,'#ffffff',1926);
  tag(P,'price-tag-white','147.867',1908,1058,124,'#ffffff','#131722',1926);
  tag(P,'last-price-tag','147.068',1908,1189,124,TAG_NAVY,'#ffffff',1926);
})();

/* ---------- Panel 5: 1W ---------- */
(function(){
  const P=panel('w1-chart','',2060,2874,771,1492,2738,1435,150,870.5,83.55,2074.8,26);
  zone(P,'weekly-order-block-top',151.3,149.34,2060,2738,DARKBAND);
  zone(P,'weekly-order-block-low-a',145.24,144.99,2308,2738,DARKBAND);
  zone(P,'weekly-order-block-low-b',144.2,142.5,2308,2738,DARKBAND);
  zone(P,'daily-order-block-light',147.03,145.82,2413,2738,LIGHT);
  watermark(P,'USDJPY, 1W',2123,557,1075,100,'U.S. Dollar / Japanese Yen',2077,643,1160,58);
  level(P,'weekly-ob-top-level',150.288,2060,2738,L_GREY,2.4);
  level(P,'weekly-ob-low-level',143.97,2308,2738,L_GREY,2.4);
  level(P,'dotted-level',150.92,2060,2738,L_GREY,2,DOT);
  zone(P,'h4-zone-a',150.667,150.42,2440,2738,GREEN);
  zone(P,'m15-zone-a',150.6,150.45,2440,2738,BLUE);
  zone(P,'h1-zone-a',150.5,150.30,2440,2738,PINK);
  level(P,'m15-level-a',150.542,2440,2738,L_BLUE,2.6);
  level(P,'h1-level-a',150.418,2440,2738,L_PINK,2.2);
  zone(P,'h4-zone-b',148.755,148.625,2517,2738,GREEN);
  zone(P,'h1-zone-b',148.745,148.51,2517,2738,PINK);
  level(P,'h4-level-b',148.68,2517,2738,L_GREEN,2.2);
  level(P,'h1-level-b',148.616,2517,2738,L_PINK,2.2);
  zone(P,'h4-zone-c',147.56,147.30,2542,2738,GREEN);
  zone(P,'h1-zone-c',147.51,147.38,2542,2738,PINK);
  level(P,'h1-level-c',147.446,2542,2738,L_PINK,2.2);
  level(P,'m15-level-c',147.305,2542,2738,L_BLUE,2.4);
  level(P,'daily-ob-white-line',146.418,2413,2738,'#ffffff',2.4);
  zone(P,'m15-zone-d',146.107,145.96,2413,2738,BLUE);
  zone(P,'h1-zone-d',146.05,145.825,2413,2738,PINK);
  level(P,'m15-level-d',146.034,2413,2738,L_BLUE,2.4);
  zone(P,'h4-zone-e',144.64,144.30,2335,2738,GREEN);
  zone(P,'h1-zone-e',144.48,144.22,2361,2738,PINK);
  level(P,'white-level-e',144.605,2335,2738,'#eef2ec',2.2);
  level(P,'h4-level-e',144.48,2335,2738,L_GREEN,2.2);
  level(P,'h1-level-e',144.41,2361,2738,L_PINK,2.2);
  ema(P,p5EmaBar,p5EmaPrice);
  level(P,'weekly-50ema-line',148.10,2672,2738,L_GREY,2.2);
  level(P,'h1-50ema-line',147.876,2647,2738,L_1H,2.2);
  level(P,'h4-50ema-line',147.65,2639,2738,L_4H,2.2);
  level(P,'daily-50ema-line',147.06,2655,2738,L_DAILY,2.2);
  emaLabel(P,'weekly-50ema-label','Weekly 50EMA',2549,116,1030,T_GREY);
  emaLabel(P,'h1-50ema-label','1H 50 EMA',2549,86,1049,T_1H);
  emaLabel(P,'h4-50ema-label','4H 50EMA',2549,82,1068,T_4H);
  emaLabel(P,'daily-50ema-label','Daily 50EMA',2549,98,1118,T_DAILY);
  candles(P,p5Open,p5High,p5Low,p5Close,16.5,2.3);
  clockPin(P,2506,1021);clockPin(P,2559,1103);
  arrow(P,2542.5,835.6,2594.7,914.4);
  arrow(P,2621,985,2646.3,1042.8);
  arrow(P,2646.3,1202.3,2672.7,1145);
  lightning(P,2543,1311);target(P,2543,1360);flag(P,2543,1410);
  xAxis(P,p5XLabels,p5XBars,1466,()=>true);
  yAxis(P,p5YTicks,2757);
  jpy(P,2746,778,120,52,2764);
  tag(P,'countdown-tag','2d 8h',2740,1011,92,TAG_CD,'#d6e4ff',2757);
  tag(P,'last-price-tag','148.064',2740,1045,124,TAG_BLUE,'#ffffff',2757);
  tag(P,'price-tag-green','147.953',2740,1079,124,TAG_GREEN,'#131722',2757);
  tag(P,'price-tag-grey','147.895',2740,1113,124,TAG_GREY,'#ffffff',2757);
  tag(P,'price-tag-white','147.867',2740,1147,124,'#ffffff','#131722',2757);
})();
</script>
</body>
</html>
